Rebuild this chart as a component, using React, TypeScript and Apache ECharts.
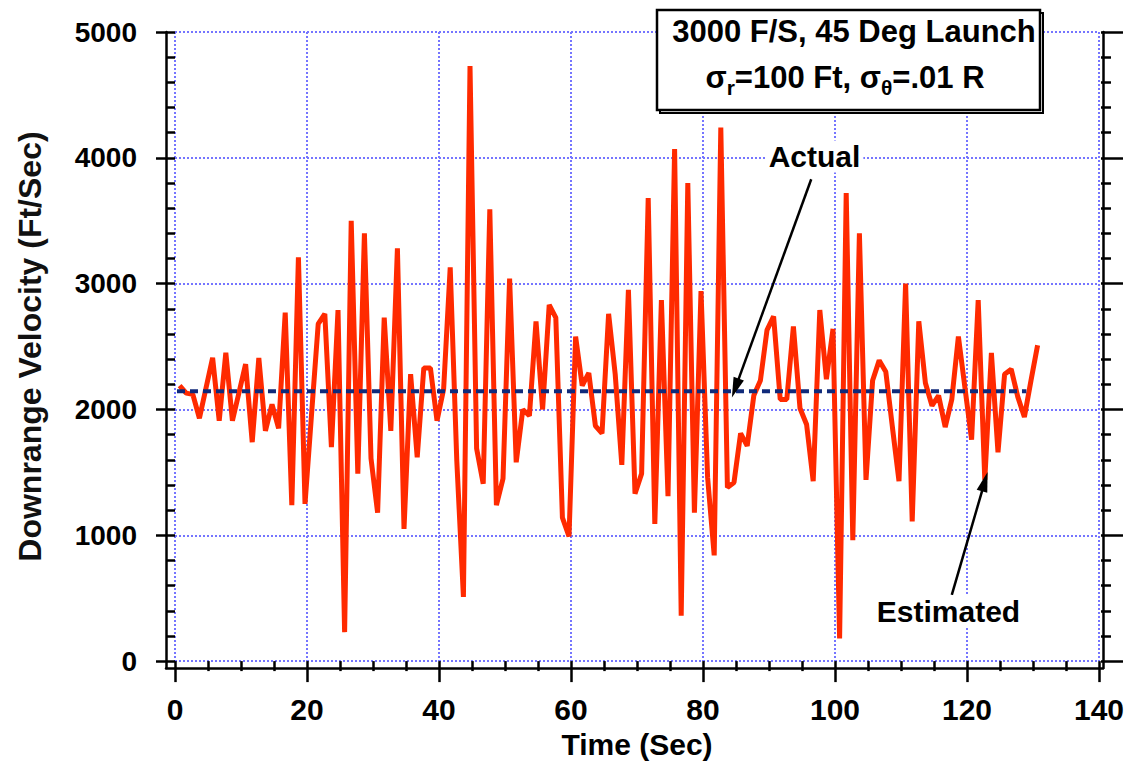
import React, { useEffect, useRef } from "react";
import * as echarts from "echarts";

const FONT = '"Liberation Sans", Arial, Helvetica, sans-serif';

// axes
const X_MIN = 0;
const X_MAX = 140;
const X_INTERVAL = 20;
const Y_MIN = 0;
const Y_MAX = 5000;
const Y_INTERVAL = 1000;

// sampling grid of the estimate (seconds)
const SAMPLE_START = 0.7;
const SAMPLE_STEP = 1;

// estimated downrange velocity (Ft/Sec), one value per sample
const ESTIMATED = [
  2190, 2130, 2120, 1930, 2170, 2410, 1910, 2450, 1910, 2135,
  2360, 1740, 2410, 1830, 2040, 1850, 2770, 1240, 3210, 1250,
  1970, 2680, 2760, 1700, 2790, 230, 3500, 1490, 3400, 1610,
  1180, 2730, 1830, 3280, 1050, 2280, 1620, 2330, 2330, 1910,
  2160, 3130, 1590, 510, 4730, 1690, 1410, 3590, 1240, 1450,
  3040, 1580, 2000, 1950, 2700, 2000, 2830, 2730, 1140, 990,
  2580, 2190, 2290, 1870, 1810, 2760, 2280, 1560, 2950, 1330,
  1490, 3680, 1090, 2870, 1310, 4070, 360, 3800, 1180, 2940,
  1460, 840, 4240, 1380, 1420, 1810, 1710, 2110, 2230, 2630,
  2740, 2080, 2080, 2660, 2010, 1880, 1430, 2790, 2240, 2640,
  180, 3720, 960, 3400, 1440, 2230, 2390, 2300, 1860, 1430,
  3000, 1110, 2700, 2210, 2030, 2110, 1860, 2080, 2580, 2170,
  1760, 2870, 1440, 2450, 1660, 2280, 2320, 2100, 1940, 2230,
  2510,
];

// actual downrange velocity (constant)
const ACTUAL_VALUE = 2145;
const ACTUAL_TIMES = [0.3, 129];

// annotations: label position, arrow tail, arrow tip (data units)
const ACTUAL_LABEL = [96.9, 4010];
const ACTUAL_ARROW = [[96.4, 3830], [84.9, 2170]];
const ESTIMATED_LABEL = [117.2, 396];
const ESTIMATED_ARROW = [[117.7, 526], [122.7, 1426]];

const TITLE_LINE1 = "3000 F/S, 45 Deg Launch";
const TITLE_LINE2 = "{m|σ}{s|r}{m|=100 Ft, σ}{s|θ}{m|=.01 R}";
const X_NAME = "Time (Sec)";
const Y_NAME = "Downrange Velocity (Ft/Sec)";

const ARROW_HEAD = "path://M5,0 L10,18 L0,18 Z";

export default function App() {
  const ref = useRef<HTMLDivElement>(null);

  useEffect(() => {
    if (!ref.current) return;
    const chart = echarts.init(ref.current, undefined, { renderer: "svg" });

    const estData = ESTIMATED.map((v, i) => [SAMPLE_START + i * SAMPLE_STEP, v]);
    const actData = ACTUAL_TIMES.map((t) => [t, ACTUAL_VALUE]);

    const gridLine = {
      show: true,
      lineStyle: { color: "#7575ff", width: 2, type: [2, 2] as any },
    };
    const labelFont = { fontFamily: FONT, fontWeight: "bold" as const, color: "#000" };
    const plain = (v: number) => String(v);

    chart.setOption({
      animation: false,
      backgroundColor: "#fff",
      grid: [
        { left: 175, right: 26, top: 32, bottom: 101 },
        { left: 166, right: 24, top: 32, bottom: 96 },
      ],
      xAxis: [
        {
          type: "value",
          gridIndex: 0,
          min: X_MIN,
          max: X_MAX,
          interval: X_INTERVAL,
          offset: 5,
          axisLine: { show: false },
          axisTick: { show: true, length: 21, lineStyle: { color: "#000", width: 2.5 } },
          minorTick: { show: true, splitNumber: 4, length: 10, lineStyle: { color: "#000", width: 2.5 } },
          splitLine: gridLine,
          axisLabel: { ...labelFont, fontSize: 30, margin: 28, formatter: plain },
          name: X_NAME,
          nameLocation: "middle",
          nameGap: 62,
          nameTextStyle: { ...labelFont, fontSize: 30 },
        },
        {
          type: "value",
          gridIndex: 1,
          min: 0,
          max: 1,
          axisLine: { show: true, lineStyle: { color: "#000", width: 2.5 } },
          axisTick: { show: false },
          axisLabel: { show: false },
          splitLine: { show: false },
        },
      ],
      yAxis: [
        {
          type: "value",
          gridIndex: 0,
          position: "left",
          min: Y_MIN,
          max: Y_MAX,
          interval: Y_INTERVAL,
          offset: 9,
          axisLine: { show: false },
          axisTick: { show: true, length: 19, lineStyle: { color: "#000", width: 2.5 } },
          minorTick: { show: true, splitNumber: 5, length: 8, lineStyle: { color: "#000", width: 2.5 } },
          splitLine: gridLine,
          axisLabel: { ...labelFont, fontSize: 28, margin: 29, formatter: plain },
          name: Y_NAME,
          nameLocation: "middle",
          nameGap: 120,
          nameTextStyle: { fontFamily: FONT, fontWeight: "bold", fontSize: 32, color: "#111" },
        },
        {
          type: "value",
          gridIndex: 0,
          position: "right",
          min: Y_MIN,
          max: Y_MAX,
          interval: Y_INTERVAL,
          offset: 2,
          axisLine: { show: false },
          axisTick: { show: true, length: 22, lineStyle: { color: "#000", width: 2.5 } },
          minorTick: { show: true, splitNumber: 5, length: 10, lineStyle: { color: "#000", width: 2.5 } },
          splitLine: { show: false },
          axisLabel: { show: false },
        },
        {
          type: "value",
          gridIndex: 1,
          position: "left",
          min: 0,
          max: 1,
          axisLine: { show: true, lineStyle: { color: "#000", width: 2.5 } },
          axisTick: { show: false },
          axisLabel: { show: false },
          splitLine: { show: false },
        },
        {
          type: "value",
          gridIndex: 1,
          position: "right",
          min: 0,
          max: 1,
          axisLine: { show: true, lineStyle: { color: "#000", width: 2.5 } },
          axisTick: { show: false },
          axisLabel: { show: false },
          splitLine: { show: false },
        },
      ],
      series: [
        {
          name: "Estimated",
          type: "line",
          xAxisIndex: 0,
          yAxisIndex: 0,
          data: estData,
          showSymbol: false,
          symbol: "none",
          lineStyle: { color: "#ff2a00", width: 5 },
          silent: true,
          markLine: {
            silent: true,
            symbol: ["none", "none"],
            label: { show: false },
            lineStyle: { color: "#000", width: 2.5, type: "solid" },
            data: [
              [
                { coord: ACTUAL_ARROW[0], symbol: "none" },
                { coord: ACTUAL_ARROW[1], symbol: ARROW_HEAD, symbolSize: [11, 20] },
              ],
              [
                { coord: ESTIMATED_ARROW[0], symbol: "none" },
                { coord: ESTIMATED_ARROW[1], symbol: ARROW_HEAD, symbolSize: [11, 20] },
              ],
            ] as any,
          },
          markPoint: {
            silent: true,
            symbol: "rect",
            symbolSize: 0,
            label: {
              show: true,
              position: "inside",
              formatter: "{b}",
              ...labelFont,
              fontSize: 30,
              backgroundColor: "#fff",
              padding: [1, 3],
            },
            data: [
              { name: "Actual", coord: ACTUAL_LABEL },
              { name: "Estimated", coord: ESTIMATED_LABEL },
            ],
          },
          z: 3,
        },
        {
          name: "Actual",
          type: "line",
          xAxisIndex: 0,
          yAxisIndex: 0,
          data: actData,
          showSymbol: false,
          symbol: "none",
          lineStyle: { color: "#102a7a", width: 4, type: [8, 5] as any },
          silent: true,
          z: 4,
        },
      ],
      graphic: [
        {
          type: "rect",
          z: 100,
          shape: { x: 660, y: 13, width: 383, height: 100 },
          style: { fill: "none", stroke: "#000", lineWidth: 2 },
        },
        {
          type: "rect",
          z: 101,
          shape: { x: 657, y: 10, width: 383, height: 100 },
          style: { fill: "#fff", stroke: "#000", lineWidth: 2.5 },
        },
        {
          type: "text",
          z: 102,
          x: 854,
          y: 31,
          style: {
            text: TITLE_LINE1,
            font: `bold 31px ${FONT}`,
            fill: "#000",
            align: "center",
            verticalAlign: "middle",
          },
        },
        {
          type: "text",
          z: 102,
          x: 845,
          y: 77,
          style: {
            text: TITLE_LINE2,
            fill: "#000",
            align: "center",
            verticalAlign: "middle",
            rich: {
              m: { fontFamily: FONT, fontWeight: "bold", fontSize: 31, fill: "#000" },
              s: { fontFamily: FONT, fontWeight: "bold", fontSize: 21, fill: "#000", padding: [20, 0, 0, 0] },
            },
          } as any,
        },
      ],
    });

    return () => chart.dispose();
  }, []);

  return (
    <div
      ref={ref}
      style={{ position: "fixed", left: 0, top: 0, width: 1127, height: 764, background: "#fff" }}
    />
  );
}
